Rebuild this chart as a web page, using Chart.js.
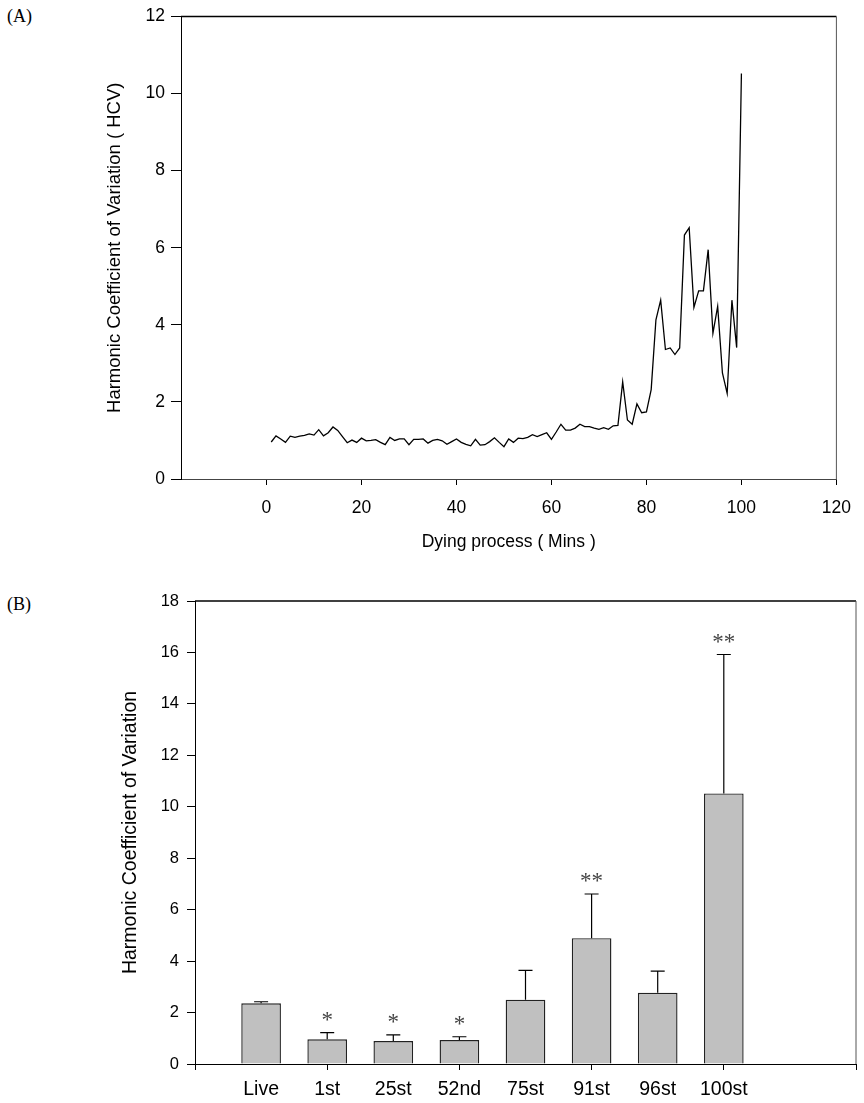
<!DOCTYPE html>
<html>
<head>
<meta charset="utf-8">
<script src="https://cdn.jsdelivr.net/npm/chart.js@4"></script>
<style>
  body { margin: 0; background: #fff; }
  #wrap { position: relative; width: 864px; height: 1103px; }
  canvas { position: absolute; left: 0; }
  .panel { position: absolute; left: 7px; font: normal 18px "Liberation Serif", "Times New Roman", serif; color: #000; }
</style>
</head>
<body>
<div id="wrap">
  <div class="panel" style="top:6px">(A)</div>
  <div class="panel" style="top:594px">(B)</div>
  <canvas id="chartA" width="864" height="560" style="top:0"></canvas>
  <canvas id="chartB" width="864" height="543" style="top:560px"></canvas>
</div>
<script>
// Panel A: HCV during the dying process
const minutes = [1,2,3,4,5,6,7,8,9,10,11,12,13,14,15,16,17,18,19,20,
  21,22,23,24,25,26,27,28,29,30,31,32,33,34,35,36,37,38,39,40,
  41,42,43,44,45,46,47,48,49,50,51,52,53,54,55,56,57,58,59,60,
  61,62,63,64,65,66,67,68,69,70,71,72,73,74,75,76,77,78,79,80,
  81,82,83,84,85,86,87,88,89,90,91,92,93,94,95,96,97,98,99,100];
const hcv = [0.96,1.12,1.04,0.95,1.11,1.08,1.11,1.13,1.17,1.14,
  1.28,1.12,1.20,1.35,1.26,1.10,0.94,1.01,0.95,1.06,
  0.99,1.00,1.02,0.95,0.89,1.08,1.00,1.04,1.04,0.89,
  1.03,1.03,1.04,0.93,1.00,1.03,0.99,0.90,0.97,1.04,
  0.95,0.90,0.86,1.03,0.88,0.89,0.97,1.07,0.95,0.84,
  1.04,0.95,1.06,1.05,1.08,1.15,1.10,1.15,1.20,1.03,
  1.22,1.42,1.27,1.27,1.32,1.42,1.36,1.36,1.32,1.29,
  1.33,1.29,1.38,1.39,2.52,1.53,1.42,1.95,1.72,1.74,
  2.32,4.13,4.64,3.36,3.40,3.23,3.40,6.33,6.52,4.45,
  4.88,4.88,5.95,3.78,4.48,2.75,2.22,4.64,3.41,10.52];
const minuteTicks = [0, 20, 40, 60, 80, 100, 120];

// Panel B: mean HCV per stage with upper error
const stages = ['Live', '1st', '25st', '52nd', '75st', '91st', '96st', '100st'];
const stagePos = [0, 1, 2, 3, 4, 5, 6, 7];
const stageMeans = [2.36, 0.96, 0.89, 0.93, 2.50, 4.89, 2.77, 10.52];
const stageErrors = [0.06, 0.26, 0.24, 0.13, 1.14, 1.72, 0.84, 5.40];
const sigMarks = ['', '*', '*', '*', '', '**', '', '**'];

const sans = '"Liberation Sans", Arial, sans-serif';

const frame = {
  id: 'frame',
  afterDraw(chart) {
    const { ctx, chartArea: a } = chart;
    ctx.save();
    ctx.strokeStyle = '#000';
    ctx.lineWidth = 1.5;
    ctx.beginPath();
    ctx.moveTo(a.left, a.top);
    ctx.lineTo(a.right, a.top);
    ctx.stroke();
    ctx.strokeStyle = '#555';
    ctx.lineWidth = 1;
    ctx.beginPath();
    ctx.moveTo(a.right, a.top);
    ctx.lineTo(a.right, a.bottom);
    ctx.stroke();
    ctx.restore();
  }
};

new Chart(document.getElementById('chartA'), {
  type: 'line',
  data: {
    datasets: [{
      data: minutes.map((m, i) => ({ x: m, y: hcv[i] })),
      borderColor: '#000',
      borderWidth: 1.3,
      pointRadius: 0,
      tension: 0
    }]
  },
  options: {
    responsive: false,
    animation: false,
    layout: { padding: { left: 100, right: 19, top: 14, bottom: 0 } },
    plugins: { legend: { display: false }, tooltip: { enabled: false } },
    scales: {
      x: {
        type: 'linear',
        min: -18,
        max: 120,
        afterBuildTicks: s => { s.ticks = minuteTicks.map(v => ({ value: v })); },
        afterFit: s => { s.height = 81; },
        border: { color: '#444', width: 1 },
        grid: { drawOnChartArea: false, tickLength: 6, color: '#000' },
        ticks: { color: '#000', font: { family: sans, size: 17.5 }, padding: 13, maxRotation: 0 },
        title: { display: true, text: 'Dying process ( Mins )', color: '#000',
                 font: { family: sans, size: 17.5 }, padding: { top: 0, bottom: 7 } }
      },
      y: {
        min: 0,
        max: 12,
        afterFit: s => { s.width = 81; },
        border: { color: '#000', width: 1 },
        grid: { drawOnChartArea: false, tickLength: 10, color: '#000' },
        ticks: { stepSize: 2, color: '#000', font: { family: sans, size: 17.5 }, padding: 6 },
        title: { display: true, text: 'Harmonic Coefficient of Variation ( HCV)', color: '#000',
                 font: { family: sans, size: 18.5 }, padding: { top: 4, bottom: 0 } }
      }
    }
  },
  plugins: [frame]
});

const errorBars = {
  id: 'errorBars',
  afterDatasetsDraw(chart) {
    const { ctx, scales: { x, y } } = chart;
    ctx.save();
    ctx.strokeStyle = '#000';
    ctx.lineWidth = 1.2;
    ctx.fillStyle = '#444';
    ctx.font = '23px "Liberation Serif", serif';
    ctx.textAlign = 'center';
    ctx.textBaseline = 'middle';
    stagePos.forEach((p, i) => {
      const px = x.getPixelForValue(p);
      const y0 = y.getPixelForValue(stageMeans[i]);
      const y1 = y.getPixelForValue(stageMeans[i] + stageErrors[i]);
      ctx.beginPath();
      ctx.moveTo(px, y0);
      ctx.lineTo(px, y1);
      ctx.moveTo(px - 7, y1);
      ctx.lineTo(px + 7, y1);
      ctx.stroke();
      if (sigMarks[i]) ctx.fillText(sigMarks[i], px, y1 - 12);
    });
    ctx.restore();
  }
};

new Chart(document.getElementById('chartB'), {
  type: 'bar',
  data: {
    datasets: [{
      data: stagePos.map((p, i) => ({ x: p, y: stageMeans[i] })),
      backgroundColor: '#c0c0c0',
      borderColor: '#222',
      borderWidth: 1.4,
      barPercentage: 0.6,
      categoryPercentage: 1
    }]
  },
  options: {
    responsive: false,
    animation: false,
    layout: { padding: { left: 116, right: 3, top: 41, bottom: 0 } },
    plugins: { legend: { display: false }, tooltip: { enabled: false } },
    scales: {
      x: {
        type: 'linear',
        min: -1,
        max: 9,
        offset: false,
        afterFit: s => { s.height = 39; },
        border: { color: '#000', width: 1 },
        grid: {
          offset: false,
          drawOnChartArea: false,
          tickLength: 6,
          tickColor: c => (c.tick && Math.abs(c.tick.value % 2) === 1) ? '#000' : 'rgba(0,0,0,0)'
        },
        ticks: {
          stepSize: 1,
          autoSkip: false,
          maxRotation: 0,
          padding: 8,
          color: '#000',
          font: { family: sans, size: 19.5 },
          callback: v => (stages[v] !== undefined ? stages[v] : '')
        }
      },
      y: {
        min: 0,
        max: 18,
        afterFit: s => { s.width = 79; },
        border: { color: '#000', width: 1 },
        grid: { drawOnChartArea: false, tickLength: 8, color: '#000' },
        ticks: { stepSize: 2, color: '#000', font: { family: sans, size: 16.5 }, padding: 8 },
        title: { display: true, text: 'Harmonic Coefficient of Variation', color: '#000',
                 font: { family: sans, size: 19.5 }, padding: { top: 3, bottom: 0 } }
      }
    }
  },
  plugins: [frame, errorBars]
});
</script>
</body>
</html>
